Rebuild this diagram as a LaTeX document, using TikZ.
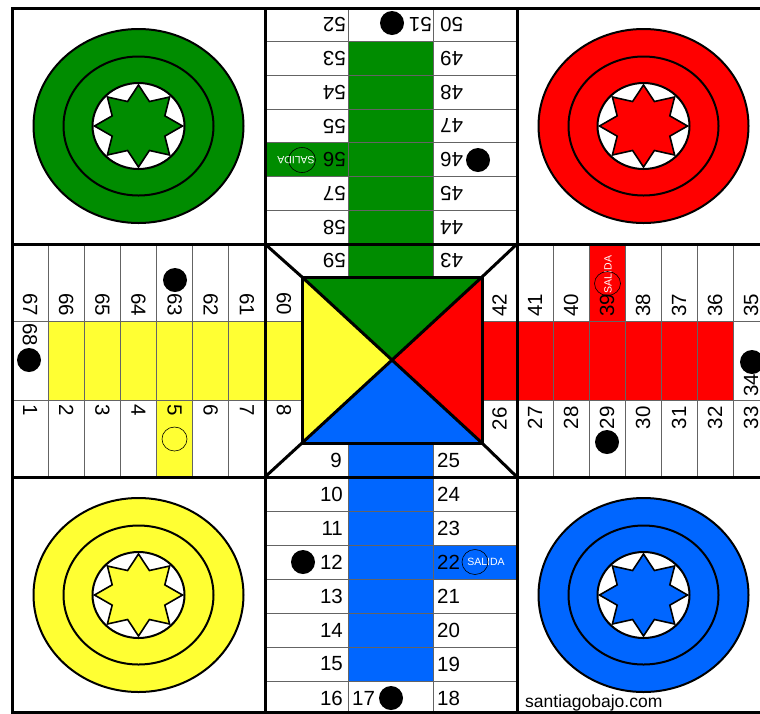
\documentclass[tikz,border=0pt]{standalone}
\usepackage{fontspec}
\setmainfont{Liberation Sans}
\definecolor{pgreen}{RGB}{0,140,0}
\definecolor{pred}{RGB}{255,0,0}
\definecolor{pyellow}{RGB}{255,255,51}
\definecolor{pblue}{RGB}{0,102,255}
\definecolor{cellline}{RGB}{100,100,100}
\newcommand\parchistarget[4]{%
  \begin{scope}[shift={(#1,#2)}]
    \draw[line width=2pt, fill=#3] (0,0) ellipse (105 and 97);
    \draw[line width=2pt] (0,0) ellipse (75 and 69.5);
    \draw[line width=2pt, fill=white] (0,0) ellipse (46 and 43);
    \draw[line width=1.6pt, fill=#3, line join=miter] (90:44 and 41)
      \foreach \k in {0,...,6} { -- ({112.5+45*\k}:28.5 and 26.5) -- ({135+45*\k}:44 and 41) }
      -- (427.5:28.5 and 26.5) -- cycle;
    \coordinate (#4) at (0,0);
  \end{scope}}
\begin{document}
\begin{tikzpicture}[x=1pt,y=-1pt,
  num/.style={font=\fontsize{20.5}{24}\selectfont, inner sep=0pt},
  cellrule/.style={draw=cellline, line width=0.9pt},
  heavy/.style={draw=black, line width=3pt},
  salida/.style={font=\fontsize{10.5}{12}\selectfont, text=white, inner sep=0pt},
  ring/.style={draw=black, line width=0.6pt},
  token/.style={fill=black}]
\useasboundingbox (0,0) rectangle (760,713);
\clip (0,0) rectangle (760,713);
\fill[white] (0,0) rectangle (760,713);

% coloured home lanes
\fill[pgreen] (348,41.7) rectangle (433,277);
\fill[pgreen] (265,142.9) rectangle (348,176.6);
\fill[pred] (482,321) rectangle (733,400);
\fill[pred] (589,244) rectangle (625,321);
\fill[pyellow] (48.1,321) rectangle (302,400);
\fill[pyellow] (156.6,400) rectangle (192.7,477);
\fill[pblue] (348,443) rectangle (433,681);
\fill[pblue] (433,545) rectangle (517,579);

% centre triangles
\coordinate (ctr) at (392,360);
\coordinate (sqA) at (302,277);
\coordinate (sqB) at (482,277);
\coordinate (sqC) at (482,443);
\coordinate (sqD) at (302,443);
\fill[pgreen] (sqA) -- (sqB) -- (ctr) -- cycle;
\fill[pred] (sqB) -- (sqC) -- (ctr) -- cycle;
\fill[pblue] (sqC) -- (sqD) -- (ctr) -- cycle;
\fill[pyellow] (sqD) -- (sqA) -- (ctr) -- cycle;

% thin cell lines
\foreach \x in {348,433} {
  \draw[cellrule] (\x,8) -- (\x,277);
  \draw[cellrule] (\x,443) -- (\x,713);
}
\foreach \r in {1,...,6} {
  \draw[cellrule] (265,{8+33.71*\r}) -- (517,{8+33.71*\r});
  \draw[cellrule] (265,{477+34*\r}) -- (517,{477+34*\r});
  \draw[cellrule] ({12+36.14*\r},244) -- ({12+36.14*\r},477);
  \draw[cellrule] ({517+36*\r},244) -- ({517+36*\r},477);
}
\foreach \y in {321,400} {
  \draw[cellrule] (12,\y) -- (302,\y);
  \draw[cellrule] (482,\y) -- (770,\y);
}

% home targets
\parchistarget{138.5}{126}{pgreen}{tgreen}
\parchistarget{643.5}{126}{pred}{tred}
\parchistarget{138.5}{595}{pyellow}{tyellow}
\parchistarget{643.5}{595}{pblue}{tblue}

% heavy lines
\coordinate (fA) at (12,8);
\coordinate (fB) at (770,712);
\draw[heavy] (fA) rectangle (fB);
\draw[heavy] (12,244) -- (770,244);
\draw[heavy] (12,477) -- (770,477);
\draw[heavy] (265,8) -- (265,712);
\draw[heavy] (517,8) -- (517,712);
\draw[heavy] (sqA) rectangle (sqC);
\draw[heavy] (sqA) -- (sqC);
\draw[heavy] (sqB) -- (sqD);
\draw[heavy] (265,244) -- (sqA);
\draw[heavy] (517,244) -- (sqB);
\draw[heavy] (517,477) -- (sqC);
\draw[heavy] (265,477) -- (sqD);

% top arm numbers (upside down)
\foreach \l/\rr [count=\i from 0] in {52/50,53/49,54/48,55/47,56/46,57/45,58/44} {
  \node[num, rotate=180, anchor=west] (n\l) at (346,{8+33.71*(\i+0.5)}) {\l};
  \node[num, rotate=180, anchor=east] (n\rr) at (440,{8+33.71*(\i+0.5)}) {\rr};
}
\node[num, rotate=180, anchor=west] (n59) at (346,260.5) {59};
\node[num, rotate=180, anchor=east] (n43) at (440,260.5) {43};
\node[num, rotate=180, anchor=west] (n51) at (432,24.9) {51};

% bottom arm numbers
\foreach \l/\rr [count=\i from 0] in {10/24,11/23,12/22,13/21,14/20,15/19,16/18} {
  \node[num, anchor=east] (n\l) at (343,{477+34*(\i+0.5)}) {\l};
  \node[num, anchor=west] (n\rr) at (437,{477+34*(\i+0.5)}) {\rr};
}
\node[num, anchor=east] (n9) at (342,460) {9};
\node[num, anchor=west] (n25) at (437,460) {25};
\node[num, anchor=west] (n17) at (352,698) {17};

% left arm numbers
\foreach \t/\b [count=\i from 0] in {67/1,66/2,65/3,64/4,63/5,62/6,61/7} {
  \node[num, rotate=-90, anchor=east] (n\t) at ({12+36.14*(\i+0.5)},316) {\t};
  \node[num, rotate=-90, anchor=west] (n\b) at ({12+36.14*(\i+0.5)},404) {\b};
}
\node[num, rotate=-90, anchor=west] (n68) at (30,323) {68};
\node[num, rotate=-90, anchor=east] (n60) at (284,315) {60};
\node[num, rotate=-90, anchor=west] (n8) at (284,404) {8};

% right arm numbers
\foreach \t/\b [count=\i from 0] in {41/27,40/28,39/29,38/30,37/31,36/32,35/33} {
  \node[num, rotate=90, anchor=west] (n\t) at ({517+36*(\i+0.5)},317) {\t};
  \node[num, rotate=90, anchor=east] (n\b) at ({517+36*(\i+0.5)},406) {\b};
}
\node[num, rotate=90, anchor=west] (n34) at (751,397) {34};
\node[num, rotate=90, anchor=west] (n42) at (499.5,317) {42};
\node[num, rotate=90, anchor=east] (n26) at (499.5,407) {26};

% exits (SALIDA)
\node[salida, rotate=180] (sgreen) at (296,160) {SALIDA};
\draw[ring] (302,160) ellipse (13.5 and 12.5);
\node[salida, rotate=90] (sred) at (608,274.5) {SALIDA};
\draw[ring] (607.5,283.5) ellipse (13 and 12);
\node[salida] (sblue) at (486,562) {SALIDA};
\draw[ring] (475,562) ellipse (13 and 12.5);
\draw[ring] (174.5,439) ellipse (12.5 and 12);

% safe-square tokens
\fill[token] (392,23) circle (12);
\fill[token] (478,160) circle (12);
\fill[token] (175,280) circle (12);
\fill[token] (29,360) circle (12);
\fill[token] (752,362) circle (12);
\fill[token] (607,442) circle (12);
\fill[token] (303,562) circle (12);
\fill[token] (391,698) circle (12);

\node[font=\fontsize{17.5}{20}\selectfont, anchor=base west, inner sep=0pt] (web) at (525,707) {santiagobajo.com};
\end{tikzpicture}
\end{document}
